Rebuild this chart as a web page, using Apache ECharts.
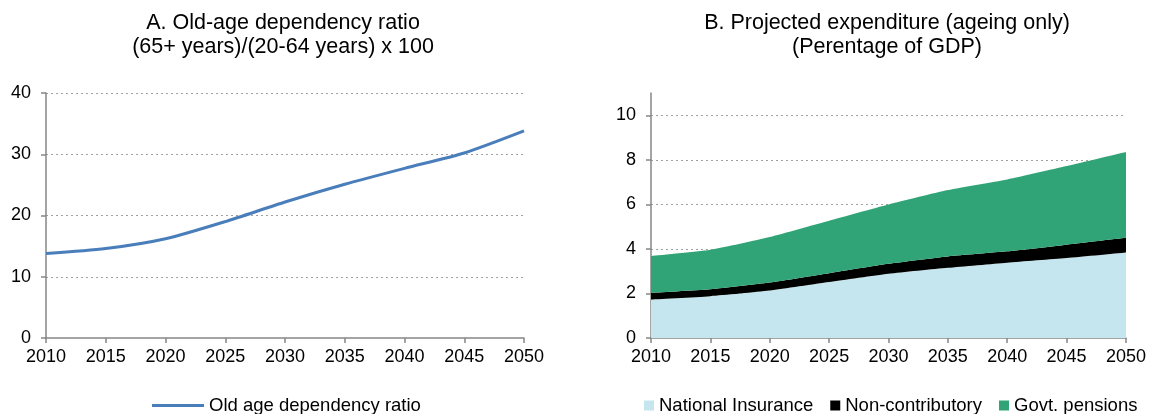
<!DOCTYPE html>
<html>
<head>
<meta charset="utf-8">
<script src="https://cdn.jsdelivr.net/npm/echarts@6/dist/echarts.min.js"></script>
<style>html,body{margin:0;padding:0;background:#fff}#c{width:1149px;height:414px}</style>
</head>
<body>
<div id="c"></div>
<script>
const years = ['2010','2015','2020','2025','2030','2035','2040','2045','2050'];
const dependencyRatio = [13.8, 14.6, 16.2, 19.0, 22.2, 25.1, 27.7, 30.2, 33.8];
const nationalInsurance = [1.73, 1.88, 2.13, 2.51, 2.88, 3.15, 3.38, 3.59, 3.84];
const nonContributory = [0.30, 0.31, 0.36, 0.40, 0.45, 0.51, 0.51, 0.60, 0.66];
const govtPensions = [1.65, 1.77, 2.04, 2.35, 2.66, 2.98, 3.23, 3.53, 3.85];

const FONT = 'Liberation Sans, Arial, sans-serif';
const axisGray = '#868686';
const chart = echarts.init(document.getElementById('c'), null, {renderer: 'canvas'});

const xAxisCommon = {
  type: 'category', data: years, boundaryGap: false,
  axisLine: {lineStyle: {color: axisGray, width: 1.5}},
  axisTick: {show: true, length: 5, lineStyle: {color: axisGray, width: 1.5}},
  axisLabel: {color: '#000', fontSize: 18, fontFamily: FONT, margin: 10},
  splitLine: {show: false}
};
const yAxisCommon = {
  type: 'value',
  axisLine: {show: true, lineStyle: {color: axisGray, width: 1.5}},
  axisTick: {show: true, length: 5, lineStyle: {color: axisGray, width: 1.5}},
  axisLabel: {color: '#000', fontSize: 18, fontFamily: FONT, margin: 15},
  splitLine: {show: true, showMinLine: false, showMaxLine: true, lineStyle: {color: '#a0a0a0', type: [2, 3], width: 1}}
};

chart.setOption({
  animation: false,
  textStyle: {fontFamily: FONT},
  title: [
    {text: 'A. Old-age dependency ratio\n(65+ years)/(20-64 years) x 100', left: 283, top: 11, padding: 0, textAlign: 'center',
     textStyle: {fontSize: 21.5, lineHeight: 24, fontWeight: 'normal', color: '#000', fontFamily: FONT}},
    {text: 'B. Projected expenditure (ageing only)\n(Perentage of GDP)', left: 887, top: 11, padding: 0, textAlign: 'center',
     textStyle: {fontSize: 21.5, lineHeight: 24, fontWeight: 'normal', color: '#000', fontFamily: FONT}}
  ],
  legend: [
    {left: 152, top: 396, padding: 0, itemWidth: 52, itemHeight: 3, itemGap: 20,
     textStyle: {fontSize: 18.5, color: '#000', fontFamily: FONT},
     data: [{name: 'Old age dependency ratio', icon: 'rect'}]},
    {left: 644, top: 396, padding: 0, itemWidth: 10, itemHeight: 10, itemGap: 17,
     textStyle: {fontSize: 18.5, color: '#000', fontFamily: FONT},
     data: [{name: 'National Insurance', icon: 'rect'}, {name: 'Non-contributory', icon: 'rect'}, {name: 'Govt. pensions', icon: 'rect'}]}
  ],
  grid: [
    {left: 46, top: 93, width: 478, height: 245, containLabel: false},
    {left: 651, top: 93, width: 476, height: 245, containLabel: false}
  ],
  xAxis: [
    Object.assign({gridIndex: 0}, xAxisCommon),
    Object.assign({gridIndex: 1}, xAxisCommon)
  ],
  yAxis: [
    Object.assign({}, yAxisCommon, {gridIndex: 0, min: 0, max: 40, interval: 10}),
    Object.assign({}, yAxisCommon, {gridIndex: 1, min: 0, max: 11, interval: 2,
      axisLabel: Object.assign({}, yAxisCommon.axisLabel, {showMaxLabel: false}),
      splitLine: Object.assign({}, yAxisCommon.splitLine, {showMaxLine: false})})
  ],
  series: [
    {name: 'Old age dependency ratio', type: 'line', xAxisIndex: 0, yAxisIndex: 0, data: dependencyRatio,
     showSymbol: false, smooth: 0.25, lineStyle: {color: '#4A7EBB', width: 3}, itemStyle: {color: '#4A7EBB'}},
    {name: 'National Insurance', type: 'line', xAxisIndex: 1, yAxisIndex: 1, stack: 'exp', data: nationalInsurance,
     showSymbol: false, smooth: 0.2, lineStyle: {width: 0}, areaStyle: {color: '#C5E6EE', opacity: 1}, itemStyle: {color: '#C5E6EE'}},
    {name: 'Non-contributory', type: 'line', xAxisIndex: 1, yAxisIndex: 1, stack: 'exp', data: nonContributory,
     showSymbol: false, smooth: 0.2, lineStyle: {width: 0}, areaStyle: {color: '#000000', opacity: 1}, itemStyle: {color: '#000000'}},
    {name: 'Govt. pensions', type: 'line', xAxisIndex: 1, yAxisIndex: 1, stack: 'exp', data: govtPensions,
     showSymbol: false, smooth: 0.2, lineStyle: {width: 0}, areaStyle: {color: '#31A477', opacity: 1}, itemStyle: {color: '#31A477'}}
  ]
});
</script>
</body>
</html>
